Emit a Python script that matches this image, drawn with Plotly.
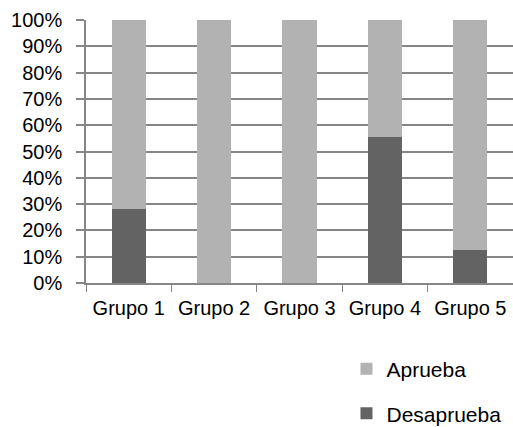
import plotly.graph_objects as go

grupos = ["Grupo 1", "Grupo 2", "Grupo 3", "Grupo 4", "Grupo 5"]
desaprueba = [28.0, 0.0, 0.0, 55.5, 12.5]
aprueba = [72.0, 100.0, 100.0, 44.5, 87.5]

axis_gray = "#868686"
font = dict(family="Liberation Sans", size=20, color="#000000")
legend_font = dict(family="Liberation Sans", size=21, color="#000000")

fig = go.Figure()
fig.add_trace(go.Bar(x=grupos, y=desaprueba, name="Desaprueba",
                     marker=dict(color="#636363", line=dict(width=0)),
                     width=0.4, legend="legend2"))
fig.add_trace(go.Bar(x=grupos, y=aprueba, name="Aprueba",
                     marker=dict(color="#b2b2b2", line=dict(width=0)),
                     width=0.4, legend="legend"))

fig.update_layout(
    width=513, height=427,
    margin=dict(l=86, r=0, t=20, b=144, autoexpand=False),
    barmode="stack",
    paper_bgcolor="white", plot_bgcolor="white",
    font=font,
    xaxis=dict(type="category", range=[-0.5, 4.5], tickson="boundaries",
               ticks="outside", ticklen=7, tickcolor=axis_gray, tickwidth=1.3,
               showline=True, linecolor=axis_gray, linewidth=1.5,
               showgrid=False, ticklabelstandoff=6, tickfont=font),
    yaxis=dict(range=[0, 100], dtick=10, ticksuffix="%",
               ticks="outside", ticklen=8, tickcolor=axis_gray, tickwidth=1.5,
               showline=True, linecolor=axis_gray, linewidth=1.5,
               showgrid=True, gridcolor=axis_gray, gridwidth=1.5,
               zeroline=False, ticklabelstandoff=10, tickfont=font),
    legend=dict(x=0.61, y=-0.327, xanchor="left", yanchor="middle",
                font=legend_font, bgcolor="rgba(0,0,0,0)"),
    legend2=dict(x=0.61, y=-0.497, xanchor="left", yanchor="middle",
                 font=legend_font, bgcolor="rgba(0,0,0,0)"),
    showlegend=True,
)

fig.write_html("out.html")
